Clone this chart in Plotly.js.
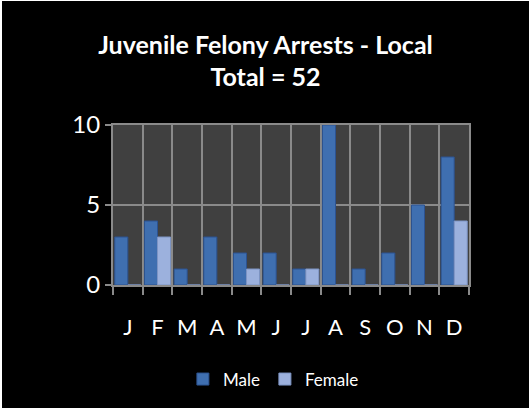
<!DOCTYPE html>
<html>
<head>
<meta charset="utf-8">
<script src="https://cdn.plot.ly/plotly-3.0.1.min.js"></script>
<style>
html,body{margin:0;padding:0;background:#ffffff;width:529px;height:408px;overflow:hidden;}
#chart{position:absolute;left:2px;top:1px;width:527px;height:407px;}
</style>
</head>
<body>
<div id="chart"></div>
<script>
const months = ["J","F","M","A","M ","J ","J  ","A ","S","O","N","D"];
const monthLabels = ["J","F","M","A","M","J","J","A","S","O","N","D"];
const male = [3,4,1,3,2,2,1,10,1,2,5,8];
const female = [0,3,0,0,1,0,1,0,0,0,0,4];
const titleText = "Juvenile Felony Arrests - Local<br>Total = 52";
const yTicks = [0,5,10];

const font = "Lato, 'Open Sans', sans-serif";

const data = [
  {type:"bar", name:"Male", x:months, y:male,
   marker:{color:"#3f6fb0", line:{color:"#2c5290", width:1}}},
  {type:"bar", name:"Female", x:months, y:female,
   marker:{color:"#9cb1dd", line:{color:"#7d94c4", width:1}}}
];

const layout = {
  width:527, height:407,
  paper_bgcolor:"#000000", plot_bgcolor:"#404040",
  margin:{l:111, r:60, t:124, b:123, autoexpand:false},
  title:{text:titleText, x:0.5, xanchor:"center", y:0.87, yanchor:"top",
    font:{family:font, size:25, color:"#ffffff", weight:"bold"}},
  barmode:"group", bargap:0.12, bargroupgap:0,
  showlegend:true,
  legend:{orientation:"h", xref:"container", yref:"container", x:0.515, xanchor:"center", y:0.07, yanchor:"middle",
    font:{family:font, size:17, color:"#ffffff"}, bgcolor:"rgba(0,0,0,0)", itemwidth:30},
  xaxis:{type:"category", tickvals:months, ticktext:monthLabels, tickangle:0,
    tickson:"boundaries", showgrid:true, gridcolor:"#8a8a8a", gridwidth:2,
    ticks:"outside", ticklen:8, tickcolor:"#8a8a8a", tickwidth:2,
    showline:true, linecolor:"#8a8a8a", linewidth:2, mirror:true,
    ticklabelstandoff:22,
    tickfont:{family:font, size:22, color:"#ffffff"}},
  yaxis:{range:[0,10], tickvals:yTicks, showgrid:true, gridcolor:"#8a8a8a", gridwidth:2,
    ticks:"outside", ticklen:6, tickcolor:"#8a8a8a", tickwidth:2,
    showline:true, linecolor:"#8a8a8a", linewidth:2, mirror:true, zeroline:false,
    ticklabelstandoff:0,
    tickfont:{family:font, size:24, color:"#ffffff"}}
};

Plotly.newPlot("chart", data, layout, {displayModeBar:false, staticPlot:true});
</script>
</body>
</html>
